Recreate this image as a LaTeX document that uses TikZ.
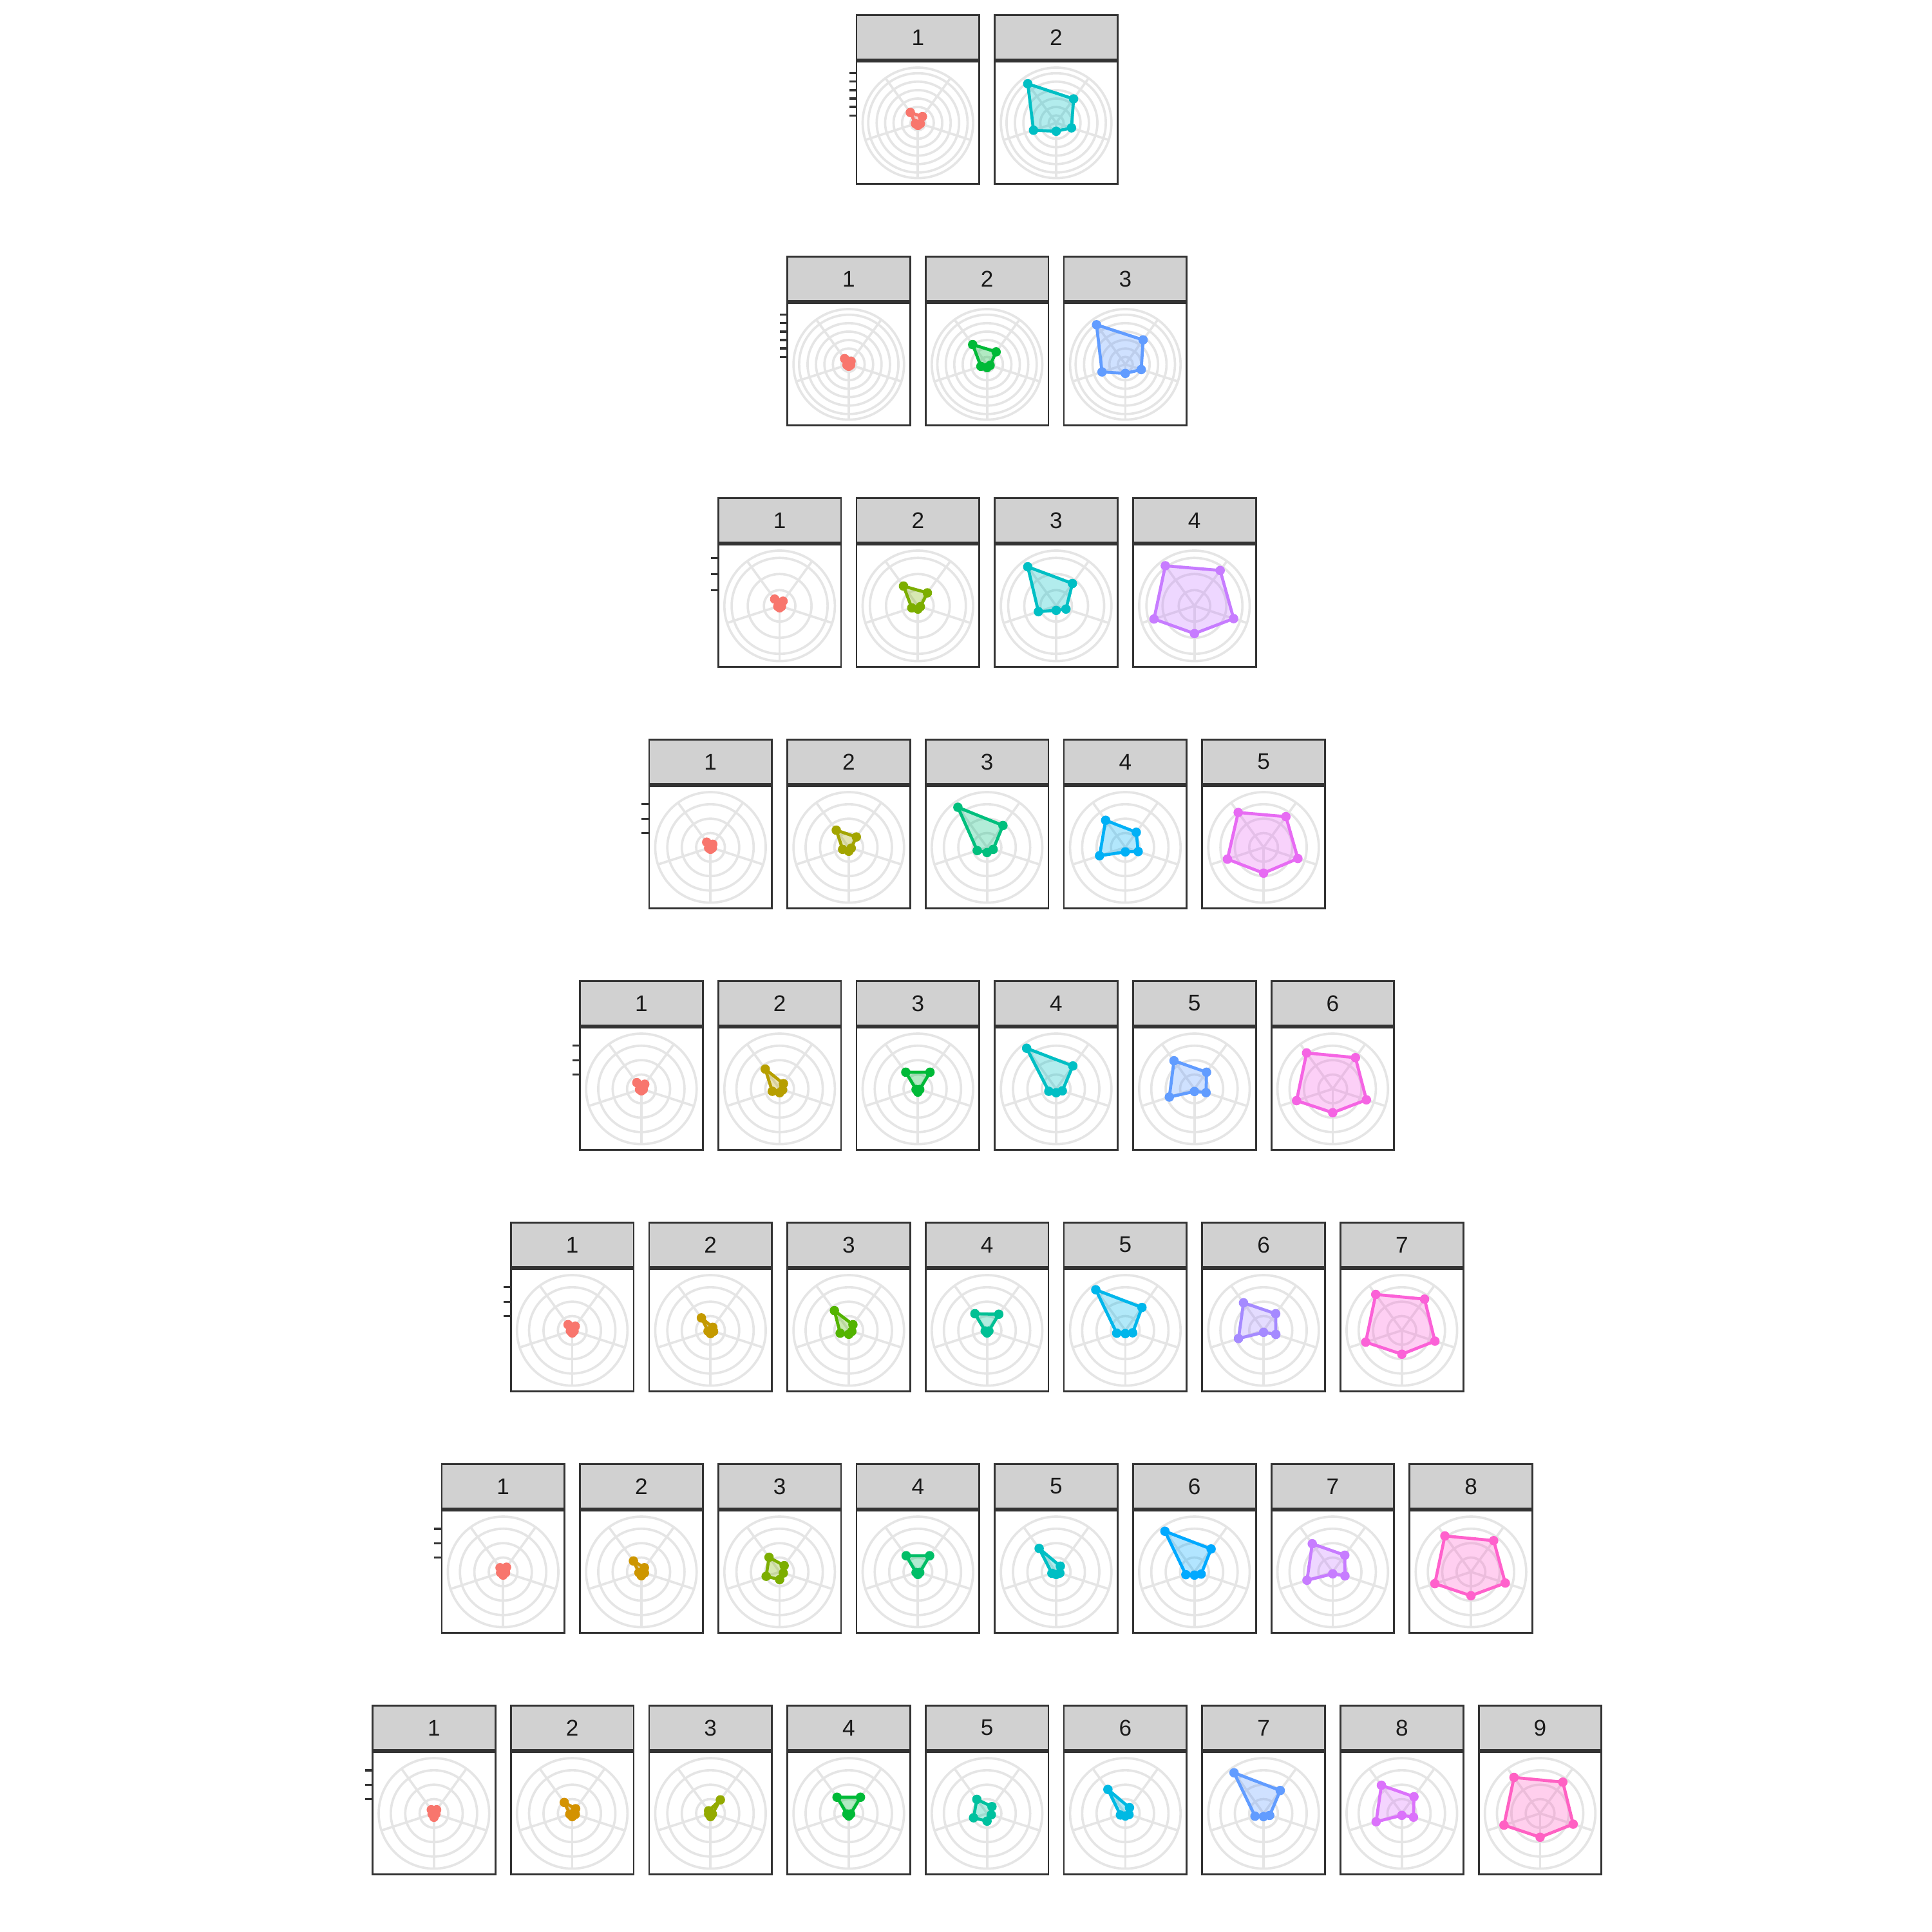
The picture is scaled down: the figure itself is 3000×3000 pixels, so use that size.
\documentclass[tikz,border=0pt]{standalone}
\usepackage{fontspec}
\setmainfont{Liberation Sans}
\definecolor{gridgrey}{HTML}{E5E5E5}
\definecolor{framegrey}{HTML}{333333}
\definecolor{stripgrey}{HTML}{D1D1D1}
\definecolor{textgrey}{HTML}{1A1A1A}

\begin{document}
\begin{tikzpicture}[x=0.01cm, y=-0.01cm,
    gridline/.style={draw=gridgrey, line width=1.05pt},
    panelbox/.style={draw=framegrey, line width=.8pt},
    stripbox/.style={draw=framegrey, fill=stripgrey, line width=.8pt},
    striptext/.style={text=textgrey, font=\fontsize{10}{12}\selectfont, inner sep=0pt},
    tickmark/.style={draw=framegrey, line width=.95pt}]
    \useasboundingbox (0,0) rectangle (3000,3000);
    \foreach \r/\j/\col/\va/\vb/\vc/\vd/\ve in {
        1/1/F8766D/12/4/4/4/20, 1/2/00BFC4/46/25/13/37/75,
        2/1/F8766D/6/3/3/3/11, 2/2/00BA38/24/5/5/10/38, 2/3/619CFF/47/26/14/38/76,
        3/1/F8766D/9/3/3/3/13, 3/2/7CAE00/25/4/5/10/38, 3/3/00BFC4/43/16/7/29/75, 3/4/C77CFF/68/64/43/66/77,
        4/1/F8766D/6/3/3/3/10, 4/2/A3A500/20/4/6/10/33, 4/3/00BF7D/42/10/8/16/77, 4/4/00B0F6/29/21/7/42/52,
        4/5/E76BF3/59/56/40/59/67,
        5/1/F8766D/9/3/3/3/12, 5/2/B79F00/10/5/6/12/38, 5/3/00BA38/32/3/5/3/32, 5/4/00BFC4/44/10/6/12/78,
        5/5/619CFF/32/19/4/41/54, 5/6/F564E3/60/55/37/59/69,
        6/1/F8766D/8/3/4/3/11, 6/2/C49A00/6/5/5/4/24, 6/3/53B400/11/5/6/14/38, 6/4/00C094/31/3/4/3/32,
        6/5/00B6EB/44/12/5/14/78, 6/6/A58AFF/32/20/3/41/53, 6/7/FB61D7/60/54/37/59/69,
        7/1/F8766D/9/4/5/4/8, 7/2/CD9600/8/5/6/4/21, 7/3/7CAE00/12/6/12/22/28, 7/4/00BE67/31/3/4/3/31,
        7/5/00BFC4/11/6/4/7/45, 7/6/00A9FF/44/11/5/14/78, 7/7/C77CFF/32/20/3/42/54, 7/8/FF61CC/60/56/37/59/69,
        8/1/F8766D/7/3/6/3/7, 8/2/D39200/9/5/5/4/21, 8/3/93AA00/26/3/5/3/5, 8/4/00BA38/31/3/4/3/31,
        8/5/00C19F/13/7/12/22/27, 8/6/00B9E3/11/6/4/8/46, 8/7/619CFF/44/10/5/14/78, 8/8/DB72FB/32/19/3/42/54,
        8/9/FF61C3/60/54/37/59/69}{
        \pgfmathsetmacro{\lx}{1330-(\r-1)*107.35+(\j-1)*214.7}
        \pgfmathsetmacro{\ty}{23.3+(\r-1)*375}
        \pgfmathsetmacro{\cx}{\lx+95.3}
        \pgfmathsetmacro{\cy}{\ty+167.5}
        \definecolor{cur}{HTML}{\col}
        \ifnum\r<3
            \def\rings{11.6,24.7,37.8,50.9,64,77.1}
        \else\ifnum\r=3
            \def\rings{24.5,49.5,74.5}
        \else
            \def\rings{22.3,44.6,67}
        \fi\fi
        % grid
        \foreach \q in \rings {\draw[gridline] (\cx,\cy) circle (\q);}
        \draw[gridline] (\cx,\cy) circle (85.8);
        \foreach \a in {36,108,180,252,324}{
            \draw[gridline] (\cx,\cy) -- ({\cx+85.8*sin(\a)},{\cy-85.8*cos(\a)});
        }
        % y ticks only left of the first panel
        \ifnum\j=1
            \foreach \q in \rings {\draw[tickmark] (\lx-11.5,\cy-\q) -- (\lx,\cy-\q);}
        \fi
        % radar polygon
        \filldraw[draw=cur, fill=cur, fill opacity=.3, line width=1.35pt, line join=round]
            ({\cx+\va*sin(36)},{\cy-\va*cos(36)}) -- ({\cx+\vb*sin(108)},{\cy-\vb*cos(108)})
            -- ({\cx+\vc*sin(180)},{\cy-\vc*cos(180)}) -- ({\cx+\vd*sin(252)},{\cy-\vd*cos(252)})
            -- ({\cx+\ve*sin(324)},{\cy-\ve*cos(324)}) -- cycle;
        \foreach \v/\a in {\va/36,\vb/108,\vc/180,\vd/252,\ve/324}{
            \fill[cur] ({\cx+\v*sin(\a)},{\cy-\v*cos(\a)}) circle (7.3);
        }
        \draw[panelbox] (\lx,\ty+72.4) rectangle +(190.7,189.6);
        \draw[stripbox] (\lx,\ty) rectangle +(190.7,69.4);
        \node[striptext] (s\r-\j) at (\cx,\ty+34.7) {\j};
    }
\end{tikzpicture}
\end{document}
